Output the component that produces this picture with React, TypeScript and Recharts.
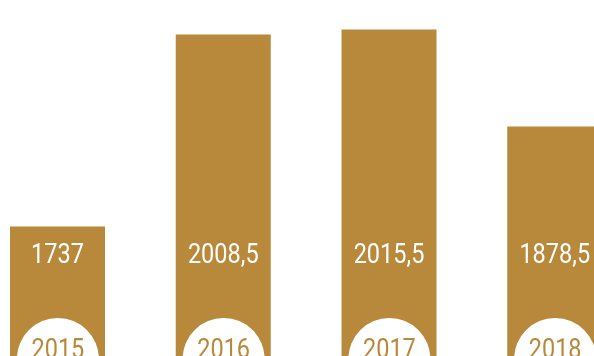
import React from "react";
import { BarChart, Bar, XAxis, YAxis, LabelList } from "recharts";

const years = ["2015", "2016", "2017", "2018"];
const values = [1737, 2008.5, 2015.5, 1878.5];
const valueLabels = ["1737", "2008,5", "2015,5", "1878,5"];

const data = years.map((y, i) => ({ year: y, value: values[i], label: valueLabels[i] }));

const GOLD = "#B8893A";
const FONT = "Roboto, 'Noto Sans', sans-serif";
const SQUEEZE = 0.84;

const YearTick = (props: any) => {
  const { x, y, payload } = props;
  return (
    <g>
      <circle cx={x} cy={y} r={41} fill="#ffffff" />
      <text
        transform={`translate(${x},${y - 1.5}) scale(${SQUEEZE},1)`}
        x={0}
        y={0}
        textAnchor="middle"
        fill={GOLD}
        fontSize={28}
        fontFamily={FONT}
      >
        {payload.value}
      </text>
    </g>
  );
};

const ValueLabel = (props: any) => {
  const { x, y, width, height, index } = props;
  return (
    <text
      transform={`translate(${x + width / 2},${y + height - 96.3}) scale(${SQUEEZE},1)`}
      x={0}
      y={0}
      textAnchor="middle"
      fill="#ffffff"
      fontSize={28}
      fontFamily={FONT}
    >
      {valueLabels[index]}
    </text>
  );
};

export default function App() {
  return (
    <div style={{ position: "fixed", left: 0, top: 0, width: 594, height: 356, overflow: "hidden" }}>
      <div style={{ position: "absolute", left: -25, top: 0 }}>
        <BarChart
          width={663}
          height={400}
          data={data}
          margin={{ top: 5, right: 0, left: 0, bottom: 0 }}
          barCategoryGap={35}
        >
          <YAxis hide domain={[1550, 2050]} allowDataOverflow />
          <XAxis
            dataKey="year"
            height={41}
            axisLine={false}
            tickLine={false}
            tickSize={0}
            tickMargin={0}
            tick={<YearTick />}
            interval={0}
          />
          <Bar dataKey="value" fill={GOLD} isAnimationActive={false} barSize={95}>
            <LabelList dataKey="label" content={<ValueLabel />} />
          </Bar>
        </BarChart>
      </div>
    </div>
  );
}
